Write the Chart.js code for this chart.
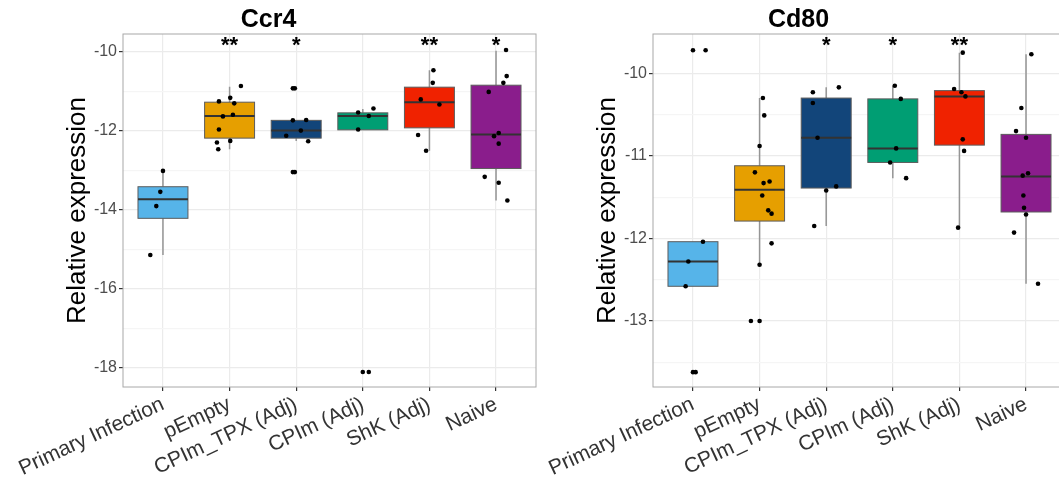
<!DOCTYPE html>
<html>
<head>
<meta charset="utf-8">
<script src="https://cdn.jsdelivr.net/npm/chart.js@4.4.1/dist/chart.umd.min.js"></script>
<style>
	html, body { margin: 0; padding: 0; background: #fff; overflow: hidden; width: 1059px; height: 481px; }
	canvas { position: absolute; top: 0; }
	#ccr4-chart { left: 0; }
	#cd80-chart { left: 530px; }
</style>
</head>
<body>
<canvas id="ccr4-chart" width="540" height="481"></canvas>
<canvas id="cd80-chart" width="540" height="481"></canvas>
<script>
'use strict';

/*================ Data ================*/

var categories = ['Primary Infection', 'pEmpty', 'CPIm_TPX (Adj)', 'CPIm (Adj)', 'ShK (Adj)', 'Naive'];
var groupColors = ['#56B4E9', '#E69F00', '#12457A', '#009E73', '#F02200', '#8A1D8C'];

// Ccr4 - individual samples per group, and their horizontal jitter (category units)
var ccr4Values = [
	[-13.01, -13.54, -13.90, -15.14],
	[-10.86, -11.16, -11.25, -11.30, -11.59, -11.63, -11.96, -12.25, -12.29, -12.46],
	[-10.92, -10.92, -11.73, -11.72, -11.99, -12.12, -12.26, -13.04, -13.04],
	[-11.53, -11.43, -11.62, -11.96, -18.10, -18.10],
	[-10.46, -10.78, -11.20, -11.33, -12.10, -12.50],
	[-9.95, -10.61, -10.78, -11.01, -12.05, -12.13, -12.32, -13.16, -13.31, -13.76]
];
var ccr4Jitter = [
	[0, -0.04, -0.10, -0.19],
	[0.17, 0.01, -0.16, 0.07, 0.05, -0.10, -0.16, 0.01, -0.19, -0.17],
	[-0.05, -0.02, -0.05, 0.15, 0.07, -0.15, 0.18, -0.05, -0.02],
	[-0.07, 0.16, 0.09, -0.07, 0, 0.09],
	[0.06, 0.05, -0.13, 0.15, -0.17, -0.05],
	[0.15, 0.16, 0.11, -0.11, 0.04, -0.03, 0.04, -0.17, 0.04, 0.17]
];
var ccr4WhiskerLow = [-15.14, -12.46, -12.25, -11.97, -12.50, -13.76];
var ccr4Q1 = [-14.21, -12.18, -12.18, -11.97, -11.92, -12.95];
var ccr4Median = [-13.73, -11.62, -11.99, -11.62, -11.27, -12.09];
var ccr4Q3 = [-13.41, -11.27, -11.73, -11.54, -10.89, -10.84];
var ccr4WhiskerHigh = [-12.99, -10.88, -11.73, -11.44, -10.46, -9.97];
var ccr4Stars = ['', '**', '*', '', '**', '*'];
var ccr4StarLevel = -9.75;

// Cd80
var cd80Values = [
	[-9.72, -9.72, -12.04, -12.28, -12.58, -13.62, -13.62],
	[-10.30, -10.51, -10.88, -11.20, -11.31, -11.33, -11.48, -11.66, -11.70, -12.06, -12.32, -13.00, -13.00],
	[-10.23, -10.17, -10.36, -10.78, -11.37, -11.42, -11.85],
	[-10.15, -10.31, -10.91, -11.08, -11.27],
	[-9.75, -10.19, -10.23, -10.28, -10.80, -10.94, -11.87],
	[-9.77, -10.42, -10.70, -10.78, -11.21, -11.24, -11.48, -11.63, -11.71, -11.93, -12.55]
];
var cd80Jitter = [
	[0, 0.19, 0.15, -0.07, -0.11, 0, 0.04],
	[0.05, 0.07, 0, -0.07, 0.15, 0.06, 0.04, 0.13, 0.18, 0.18, 0, -0.13, 0],
	[-0.20, 0.19, -0.20, -0.13, 0.15, 0, -0.18],
	[0.03, 0.12, 0.05, -0.04, 0.20],
	[0.05, -0.08, 0.03, 0.09, 0.05, 0.07, -0.02],
	[0.08, -0.07, -0.15, 0, 0.03, -0.05, -0.04, -0.03, 0, -0.18, 0.18]
];
var cd80WhiskerLow = [-12.58, -12.32, -11.85, -11.27, -11.87, -12.55];
var cd80Q1 = [-12.58, -11.79, -11.39, -11.08, -10.87, -11.68];
var cd80Median = [-12.28, -11.41, -10.78, -10.91, -10.28, -11.25];
var cd80Q3 = [-12.04, -11.12, -10.30, -10.31, -10.21, -10.74];
var cd80WhiskerHigh = [-12.04, -10.30, -10.17, -10.15, -9.75, -9.77];
var cd80Stars = ['', '', '*', '*', '**', ''];
var cd80StarLevel = -9.62;

/*================ Helpers ================*/

Chart.defaults.font.family = "'Liberation Sans', Arial, sans-serif";

function buildPoints(values, jitter) {
	var points = [];
	values.forEach(function(group, i) {
		group.forEach(function(v, j) {
			points.push({ x: i + jitter[i][j], y: v });
		});
	});
	return points;
}

// Draws box + whiskers under the points, then panel frame and stars on top.
function boxPlotPlugin(stats) {
	return {
		id: 'boxPlotLayer',
		beforeDatasetsDraw: function(chart) {
			var ctx = chart.ctx;
			var xs = chart.scales.x;
			var ys = chart.scales.y;
			ctx.save();
			stats.q1.forEach(function(q1, i) {
				var cx = xs.getPixelForValue(i);
				var left = xs.getPixelForValue(i - 0.375);
				var right = xs.getPixelForValue(i + 0.375);
				var top = ys.getPixelForValue(stats.q3[i]);
				var bottom = ys.getPixelForValue(q1);

				ctx.strokeStyle = '#959595';
				ctx.lineWidth = 1.5;
				ctx.beginPath();
				ctx.moveTo(cx, ys.getPixelForValue(stats.high[i]));
				ctx.lineTo(cx, top);
				ctx.moveTo(cx, bottom);
				ctx.lineTo(cx, ys.getPixelForValue(stats.low[i]));
				ctx.stroke();

				ctx.fillStyle = groupColors[i];
				ctx.fillRect(left, top, right - left, bottom - top);
				ctx.strokeStyle = '#5c5c5c';
				ctx.lineWidth = 1;
				ctx.strokeRect(left, top, right - left, bottom - top);

				var my = ys.getPixelForValue(stats.median[i]);
				ctx.strokeStyle = '#333333';
				ctx.lineWidth = 2;
				ctx.beginPath();
				ctx.moveTo(left, my);
				ctx.lineTo(right, my);
				ctx.stroke();
			});
			ctx.restore();
		},
		afterDraw: function(chart) {
			var ctx = chart.ctx;
			var area = chart.chartArea;
			var xs = chart.scales.x;
			var ys = chart.scales.y;
			ctx.save();
			ctx.strokeStyle = '#a8a8a8';
			ctx.lineWidth = 1;
			ctx.strokeRect(area.left, area.top, area.right - area.left, area.bottom - area.top);

			ctx.fillStyle = '#000';
			ctx.font = "bold 22px 'Liberation Sans', Arial, sans-serif";
			ctx.textAlign = 'center';
			ctx.textBaseline = 'alphabetic';
			stats.stars.forEach(function(s, i) {
				if (!s) {
					return;
				}
				ctx.fillText(s, xs.getPixelForValue(i), ys.getPixelForValue(stats.starLevel) + 10);
			});
			ctx.restore();
		}
	};
}

function panelOptions(titleText, yMin, yMax, yStep, isMajor) {
	return {
		responsive: false,
		animation: false,
		devicePixelRatio: 1,
		layout: { padding: { left: 0, right: 3, top: 0, bottom: 0 } },
		plugins: {
			legend: { display: false },
			tooltip: { enabled: false },
			title: {
				display: true,
				text: titleText,
				color: '#000',
				font: { size: 25, weight: 'bold', lineHeight: 1 },
				padding: { top: 8, bottom: 1 }
			}
		},
		scales: {
			x: {
				type: 'linear',
				min: -0.6,
				max: 5.6,
				afterBuildTicks: function(scale) {
					scale.ticks = categories.map(function(c, i) {
						return { value: i };
					});
				},
				afterFit: function(scale) {
					scale.height = 94;
					scale.paddingLeft = 0;
					scale.paddingRight = 0;
				},
				ticks: {
					autoSkip: false,
					minRotation: 25,
					maxRotation: 25,
					color: '#333333',
					font: { size: 21 },
					padding: 1,
					callback: function(value) {
						return categories[value];
					}
				},
				grid: { color: '#ebebeb', lineWidth: 1.2, tickColor: '#333', tickLength: 4 },
				border: { display: false }
			},
			y: {
				min: yMin,
				max: yMax,
				afterFit: function(scale) {
					scale.width = 123;
				},
				ticks: {
					stepSize: yStep,
					includeBounds: false,
					color: '#4d4d4d',
					font: { size: 16 },
					padding: 2,
					callback: function(value) {
						return isMajor(value) ? String(Math.round(value)) : '';
					}
				},
				grid: {
					color: function(c) {
						return c.tick && isMajor(c.tick.value) ? '#ebebeb' : '#f5f5f5';
					},
					lineWidth: 1.2,
					tickColor: function(c) {
						return c.tick && isMajor(c.tick.value) ? '#333' : 'rgba(0,0,0,0)';
					},
					tickLength: 4
				},
				border: { display: false },
				title: {
					display: true,
					text: 'Relative expression',
					color: '#000',
					font: { size: 26 },
					padding: { top: 62, bottom: 0 }
				}
			}
		}
	};
}

function pointDataset(values, jitter) {
	return {
		data: buildPoints(values, jitter),
		pointRadius: 2.3,
		pointBackgroundColor: '#000',
		pointBorderWidth: 0
	};
}

/*================ Charts ================*/

new Chart(document.getElementById('ccr4-chart'), {
	type: 'scatter',
	data: { datasets: [ pointDataset(ccr4Values, ccr4Jitter) ] },
	options: panelOptions('Ccr4', -18.48, -9.544, 1, function(v) {
		return Math.abs(v / 2 - Math.round(v / 2)) < 1e-6;
	}),
	plugins: [ boxPlotPlugin({
		low: ccr4WhiskerLow, q1: ccr4Q1, median: ccr4Median, q3: ccr4Q3, high: ccr4WhiskerHigh,
		stars: ccr4Stars, starLevel: ccr4StarLevel
	}) ]
});

new Chart(document.getElementById('cd80-chart'), {
	type: 'scatter',
	data: { datasets: [ pointDataset(cd80Values, cd80Jitter) ] },
	options: panelOptions('Cd80', -13.80, -9.524, 0.5, function(v) {
		return Math.abs(v - Math.round(v)) < 1e-6;
	}),
	plugins: [ boxPlotPlugin({
		low: cd80WhiskerLow, q1: cd80Q1, median: cd80Median, q3: cd80Q3, high: cd80WhiskerHigh,
		stars: cd80Stars, starLevel: cd80StarLevel
	}) ]
});
</script>
</body>
</html>
